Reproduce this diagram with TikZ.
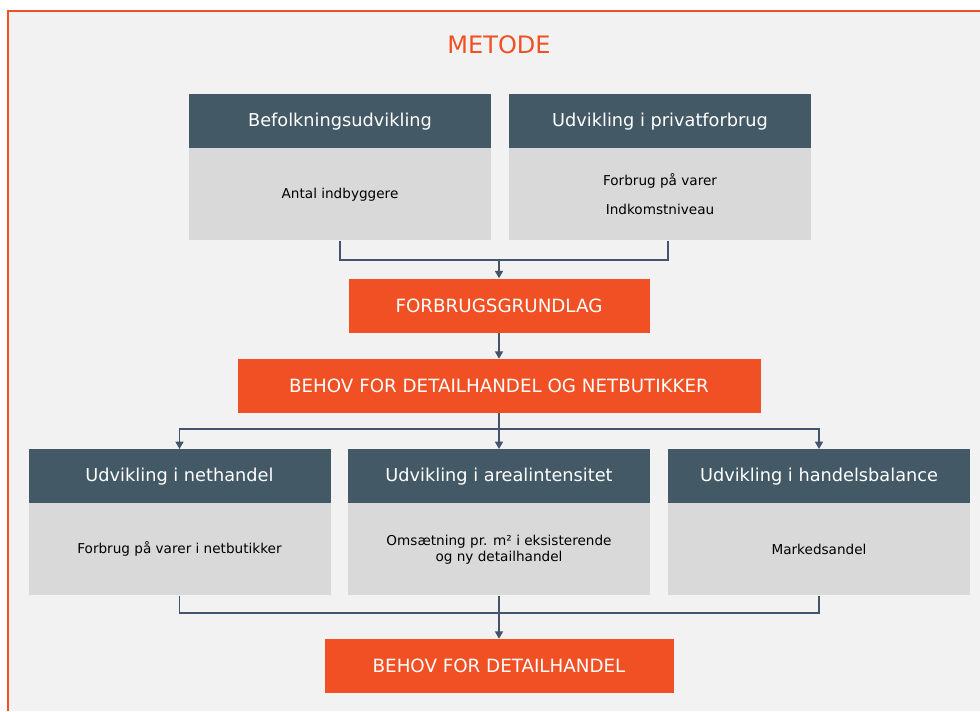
\documentclass[tikz,border=0pt]{standalone}
\usepackage{fontspec}
\setmainfont{DejaVu Sans}
\usetikzlibrary{arrows.meta}
\definecolor{frameorange}{HTML}{F05023}
\definecolor{headslate}{HTML}{435966}
\definecolor{bodygray}{HTML}{D9D9D9}
\definecolor{bggray}{HTML}{F2F2F2}
\definecolor{linkblue}{HTML}{44546A}
\begin{document}
\begin{tikzpicture}[x=0.75pt, y=-0.75pt, >={Triangle[width=6pt,length=5.5pt]}]
    \tikzstyle{head}=[fill=headslate, text=white, anchor=north, inner sep=0pt,
      minimum width=226.5pt, minimum height=40.5pt, font=\fontsize{13.3}{16}\selectfont]
    \tikzstyle{body}=[fill=bodygray, anchor=north, inner sep=0pt, align=center,
      minimum width=226.5pt, minimum height=69pt, font=\fontsize{10.2}{12}\selectfont]
    \tikzstyle{stepbox}=[fill=frameorange, text=white, inner sep=0pt,
      minimum height=40.5pt, font=\fontsize{13.7}{16}\selectfont]
    \tikzstyle{link}=[draw=linkblue, line width=1.1pt]

    % background and frame
    \useasboundingbox (0,0) rectangle (980,711);
    \fill[white] (0,0) rectangle (980,711);
    \fill[bggray] (7.8,11) rectangle (980,711);
    \draw[frameorange, line width=1.5pt] (7.8,711) -- (7.8,11) -- (980,11);

    \node [text=frameorange, font=\fontsize{18}{22}\selectfont] (title) at (499,45) {METODE};

    % draw top boxes
    \foreach \x/\t [count=\i] in {340/Befolkningsudvikling, 660/Udvikling i privatforbrug}
    \node [head] (thead-\i) at (\x,94) {\t};

    \foreach \x/\t [count=\i] in {340/{Antal indbyggere}, 660/{Forbrug på varer\\[9.75pt]Indkomstniveau}}
    \node [body] (tbody-\i) at (\x,148) {\t};

    % draw orange steps
    \node [stepbox, minimum width=225.75pt] (grund) at (499,305.5) {FORBRUGSGRUNDLAG};
    \node [stepbox, minimum width=392.25pt] (behov) at (499,386) {BEHOV FOR DETAILHANDEL OG NETBUTIKKER};
    \node [stepbox, minimum width=261.75pt] (result) at (499,666) {BEHOV FOR DETAILHANDEL};

    % draw bottom boxes
    \foreach \x/\t [count=\i] in {179.5/Udvikling i nethandel, 499/Udvikling i arealintensitet, 819/Udvikling i handelsbalance}
    \node [head] (bhead-\i) at (\x,449) {\t};

    \foreach \x/\t [count=\i] in {179.5/{Forbrug på varer i netbutikker}, 499/{Omsætning pr. m² i eksisterende\\og ny detailhandel}, 819/{Markedsandel}}
    \node [body] (bbody-\i) at (\x,503) {\t};

    % draw lines
    \coordinate (merge) at (499,260);
    \draw [link] (tbody-1.south) |- (merge);
    \draw [link] ([xshift=6pt]tbody-2.south) |- (merge);
    \draw [link, ->] (merge) -- (grund.north);

    \draw [link, ->] (grund.south) -- (behov.north);

    \coordinate (split) at (499,429);
    \draw [link] (behov.south) -- (split);
    \foreach \j in {1,2,3}
    \draw [link, ->] (split) -| (bhead-\j.north);

    \coordinate (merge2) at (499,613);
    \foreach \j in {1,2,3}
    \draw [link] (bbody-\j.south) |- (merge2);
    \draw [link, ->] (merge2) -- (result.north);
\end{tikzpicture}
\end{document}
